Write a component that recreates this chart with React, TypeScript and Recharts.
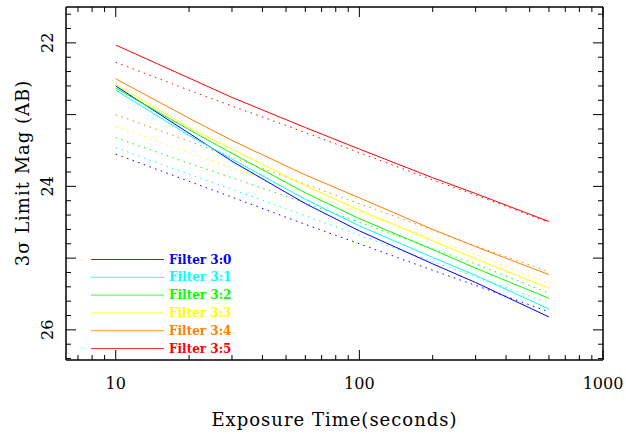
import React from "react";
import { LineChart, Line, XAxis, YAxis } from "recharts";

const exposureTimes = [10, 20, 30, 60, 100, 200, 300, 600];

const filterNames = ["Filter 3:0", "Filter 3:1", "Filter 3:2", "Filter 3:3", "Filter 3:4", "Filter 3:5"];
const filterColors = ["#0000ff", "#00ffff", "#00ff00", "#ffff00", "#ff8000", "#ff0000"];

const filter30Solid = [22.6, 23.26, 23.65, 24.24, 24.62, 25.08, 25.34, 25.82];
const filter30Dotted = [23.55, 23.93, 24.15, 24.53, 24.8, 25.17, 25.38, 25.75];
const filter31Solid = [22.66, 23.29, 23.62, 24.18, 24.55, 24.99, 25.24, 25.71];
const filter31Dotted = [23.46, 23.83, 24.04, 24.41, 24.68, 25.05, 25.26, 25.63];
const filter32Solid = [22.63, 23.21, 23.54, 24.09, 24.45, 24.88, 25.14, 25.56];
const filter32Dotted = [23.32, 23.68, 23.88, 24.23, 24.5, 24.87, 25.08, 25.49];
const filter33Solid = [22.58, 23.18, 23.48, 23.99, 24.33, 24.76, 25.01, 25.42];
const filter33Dotted = [23.17, 23.53, 23.74, 24.08, 24.36, 24.73, 24.95, 25.35];
const filter34Solid = [22.5, 23.05, 23.36, 23.84, 24.16, 24.6, 24.84, 25.23];
const filter34Dotted = [23.0, 23.37, 23.59, 23.97, 24.24, 24.61, 24.83, 25.19];
const filter35Solid = [22.03, 22.49, 22.76, 23.18, 23.48, 23.88, 24.1, 24.49];
const filter35Dotted = [22.27, 22.66, 22.88, 23.25, 23.53, 23.91, 24.12, 24.5];

const solidSeries = [filter30Solid, filter31Solid, filter32Solid, filter33Solid, filter34Solid, filter35Solid];
const dottedSeries = [filter30Dotted, filter31Dotted, filter32Dotted, filter33Dotted, filter34Dotted, filter35Dotted];

const xTicks = [7, 8, 9, 10, 20, 30, 40, 50, 60, 70, 80, 90, 100, 200, 300, 400, 500, 600, 700, 800, 900, 1000];
const xMajorTicks = [10, 100, 1000];
const xTickLabels = ["10", "100", "1000"];

const yTicks = [
  21.6, 21.8, 22.0, 22.2, 22.4, 22.6, 22.8, 23.0, 23.2, 23.4, 23.6, 23.8, 24.0, 24.2, 24.4, 24.6, 24.8,
  25.0, 25.2, 25.4, 25.6, 25.8, 26.0, 26.2, 26.4,
];
const yMajorTicks = [22, 23, 24, 25, 26];
const yLabeledTicks = [22, 24, 26];
const yTickLabels = ["22", "24", "26"];

const xTitle = "Exposure Time(seconds)";
const yTitle = "3σ Limit Mag (AB)";

const data = exposureTimes.map((t, i) => {
  const row: Record<string, number> = { t };
  solidSeries.forEach((s, k) => (row[`s${k}`] = s[i]));
  dottedSeries.forEach((s, k) => (row[`d${k}`] = s[i]));
  return row;
});

const FONT = "'DejaVu Serif', serif";
const MAJOR = 10;
const MINOR = 5;

const isMajor = (v: number, list: number[]) => list.some((m) => Math.abs(m - v) < 1e-6);

const BottomTick = (props: any) => {
  const { x, y, payload } = props;
  const v = payload.value;
  const major = isMajor(v, xMajorTicks);
  const idx = xMajorTicks.findIndex((m) => Math.abs(m - v) < 1e-6);
  return (
    <g>
      <line x1={x} x2={x} y1={y} y2={y - (major ? MAJOR : MINOR)} stroke="#000" strokeWidth={1} />
      {idx >= 0 && (
        <text x={x} y={y + 29} textAnchor="middle" fontFamily={FONT} fontSize={16} fill="#000">
          {xTickLabels[idx]}
        </text>
      )}
    </g>
  );
};

const TopTick = (props: any) => {
  const { x, y, payload } = props;
  const major = isMajor(payload.value, xMajorTicks);
  return <line x1={x} x2={x} y1={y} y2={y + (major ? MAJOR : MINOR)} stroke="#000" strokeWidth={1} />;
};

const LeftTick = (props: any) => {
  const { x, y, payload } = props;
  const v = payload.value;
  const major = isMajor(v, yMajorTicks);
  const idx = yLabeledTicks.findIndex((m) => Math.abs(m - v) < 1e-6);
  return (
    <g>
      <line x1={x} x2={x + (major ? MAJOR : MINOR)} y1={y} y2={y} stroke="#000" strokeWidth={1} />
      {idx >= 0 && (
        <text
          transform={`translate(${x - 13},${y}) rotate(-90)`}
          textAnchor="middle"
          fontFamily={FONT}
          fontSize={16}
          fill="#000"
        >
          {yTickLabels[idx]}
        </text>
      )}
    </g>
  );
};

const RightTick = (props: any) => {
  const { x, y, payload } = props;
  const major = isMajor(payload.value, yMajorTicks);
  return <line x1={x} x2={x - (major ? MAJOR : MINOR)} y1={y} y2={y} stroke="#000" strokeWidth={1} />;
};

const XTitle = (props: any) => {
  const vb = props.viewBox || { x: 66, y: 360, width: 537 };
  return (
    <text
      x={vb.x + vb.width / 2}
      y={vb.y + 66}
      textAnchor="middle"
      fontFamily={FONT}
      fontSize={18}
      letterSpacing={1}
      fill="#000"
    >
      {xTitle}
    </text>
  );
};

const YTitle = (props: any) => {
  const vb = props.viewBox || { x: 26, y: 7 };
  return (
    <text
      transform={`translate(${vb.x + 3},${vb.y + 166}) rotate(-90)`}
      textAnchor="middle"
      fontFamily={FONT}
      fontSize={18}
      letterSpacing={1}
      fill="#000"
    >
      {yTitle}
    </text>
  );
};

const LegendBox = () => (
  <svg
    width={170}
    height={110}
    style={{ position: "absolute", left: 91, top: 250, overflow: "visible" }}
  >
    {filterNames.map((name, i) => (
      <g key={name}>
        <line x1={0} x2={73} y1={i * 17.8 + 9.5} y2={i * 17.8 + 9.5} stroke={filterColors[i]} strokeWidth={1} strokeOpacity={0.8} />
        <text x={78} y={i * 17.8 + 13.5} fontFamily={FONT} fontWeight="bold" fontSize={12} fill={filterColors[i]}>
          {name}
        </text>
      </g>
    ))}
  </svg>
);

const axisLine = { stroke: "#000", strokeWidth: 1.5 };

export default function App() {
  return (
    <div style={{ position: "absolute", left: 0, top: 0, width: 626, height: 434, background: "#fff" }}>
      <LineChart width={626} height={434} data={data} margin={{ top: 6, right: 22, bottom: 14, left: 26 }}>
        <XAxis
          dataKey="t"
          type="number"
          scale="log"
          domain={[6.25, 1000]}
          allowDataOverflow
          ticks={xTicks}
          interval={0}
          tickLine={false}
          tickSize={0}
          tickMargin={0}
          height={60}
          axisLine={axisLine}
          tick={<BottomTick />}
          label={<XTitle />}
        />
        <XAxis
          xAxisId="top"
          orientation="top"
          dataKey="t"
          type="number"
          scale="log"
          domain={[6.25, 1000]}
          allowDataOverflow
          ticks={xTicks}
          interval={0}
          tickLine={false}
          tickSize={0}
          tickMargin={0}
          height={1}
          axisLine={axisLine}
          tick={<TopTick />}
        />
        <YAxis
          type="number"
          reversed
          domain={[21.5, 26.42]}
          allowDataOverflow
          ticks={yTicks}
          interval={0}
          tickLine={false}
          tickSize={0}
          tickMargin={0}
          width={40}
          axisLine={axisLine}
          tick={<LeftTick />}
          label={<YTitle />}
        />
        <YAxis
          yAxisId="right"
          orientation="right"
          type="number"
          reversed
          domain={[21.5, 26.42]}
          allowDataOverflow
          ticks={yTicks}
          interval={0}
          tickLine={false}
          tickSize={0}
          tickMargin={0}
          width={1}
          axisLine={axisLine}
          tick={<RightTick />}
        />
        {dottedSeries.map((_, k) => (
          <Line
            key={`d${k}`}
            dataKey={`d${k}`}
            stroke={filterColors[k]}
            strokeWidth={1}
            strokeDasharray="1.5 4.5"
            dot={false}
            type="linear"
            isAnimationActive={false}
          />
        ))}
        {solidSeries.map((_, k) => (
          <Line
            key={`s${k}`}
            dataKey={`s${k}`}
            stroke={filterColors[k]}
            strokeWidth={1}
            dot={false}
            type="linear"
            isAnimationActive={false}
          />
        ))}
      </LineChart>
      <LegendBox />
    </div>
  );
}
